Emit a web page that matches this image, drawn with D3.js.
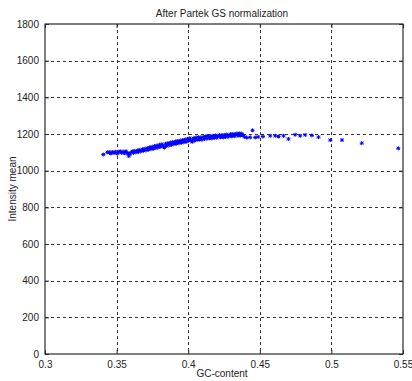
<!DOCTYPE html>
<html>
<head>
<meta charset="utf-8">
<script src="https://cdn.jsdelivr.net/npm/d3@7"></script>
<style>
  html, body { margin: 0; padding: 0; background: #fff; }
  svg { display: block; font-family: "Liberation Sans", Arial, Helvetica, sans-serif; }
</style>
</head>
<body>
<svg id="chart" width="412" height="381"></svg>
<script>
// GC-content of each probe group and its mean intensity after normalization
const gcContent = [
  0.3407, 0.3435, 0.3448, 0.3458, 0.3470, 0.3482, 0.3492, 0.3505, 0.3515, 0.3525,
  0.3535, 0.3546, 0.3555, 0.3565, 0.3572, 0.3580, 0.3585, 0.3592, 0.3600, 0.3610,
  0.3618, 0.3627, 0.3635, 0.3645, 0.3652, 0.3662, 0.3670, 0.3680, 0.3688, 0.3697,
  0.3705, 0.3714, 0.3722, 0.3731, 0.3740, 0.3748, 0.3757, 0.3765, 0.3774, 0.3782,
  0.3790, 0.3799, 0.3808, 0.3816, 0.3825, 0.3834, 0.3842, 0.3850, 0.3858, 0.3867,
  0.3875, 0.3884, 0.3892, 0.3901, 0.3910, 0.3918, 0.3927, 0.3935, 0.3944, 0.3953,
  0.3961, 0.3970, 0.3978, 0.3987, 0.3995, 0.4003, 0.4011, 0.4020, 0.4028, 0.4036,
  0.4045, 0.4053, 0.4062, 0.4070, 0.4079, 0.4088, 0.4096, 0.4105, 0.4114, 0.4122,
  0.4131, 0.4140, 0.4148, 0.4157, 0.4166, 0.4174, 0.4183, 0.4192, 0.4200, 0.4209,
  0.4218, 0.4226, 0.4235, 0.4244, 0.4252, 0.4261, 0.4270, 0.4278, 0.4287, 0.4296,
  0.4304, 0.4313, 0.4322, 0.4330, 0.4339, 0.4348, 0.4356, 0.4365, 0.4374, 0.4383,
  0.4395, 0.4410, 0.4433, 0.4449, 0.4468, 0.4489, 0.4522, 0.4573, 0.4608, 0.4631,
  0.4666, 0.4700, 0.4747, 0.4782, 0.4817, 0.4864, 0.4910, 0.4992, 0.5074, 0.5212,
  0.5467
];
const intensityMean = [
  1088, 1100, 1101, 1094, 1102, 1096, 1103, 1093, 1101, 1106,
  1097, 1104, 1095, 1106, 1099, 1092, 1080, 1090, 1099, 1105,
  1097, 1108, 1100, 1110, 1102, 1113, 1105, 1117, 1109, 1119,
  1111, 1123, 1114, 1127, 1118, 1130, 1120, 1134, 1123, 1137,
  1127, 1141, 1130, 1144, 1134, 1126, 1146, 1135, 1150, 1139,
  1153, 1141, 1156, 1145, 1159, 1148, 1162, 1150, 1164, 1153,
  1167, 1155, 1170, 1158, 1173, 1163, 1177, 1165, 1157, 1176,
  1164, 1180, 1168, 1183, 1170, 1181, 1169, 1184, 1173, 1187,
  1175, 1189, 1177, 1188, 1176, 1190, 1179, 1192, 1180, 1189,
  1194, 1182, 1193, 1181, 1195, 1184, 1197, 1185, 1192, 1199,
  1187, 1200, 1188, 1197, 1202, 1190, 1204, 1192, 1202, 1191,
  1184, 1180, 1182, 1220, 1181, 1184, 1186, 1190, 1190, 1186,
  1190, 1173, 1196, 1190, 1195, 1192, 1183, 1167, 1167, 1150,
  1122
];

const xTicks = [0.3, 0.35, 0.4, 0.45, 0.5, 0.55];
const yTicks = [0, 200, 400, 600, 800, 1000, 1200, 1400, 1600, 1800];

const svg = d3.select("#chart");
const margin = { left: 45, right: 9, top: 24, bottom: 27 };
const W = 412, H = 381;
const x = d3.scaleLinear().domain([0.3, 0.55]).range([margin.left, W - margin.right]);
const y = d3.scaleLinear().domain([0, 1800]).range([H - margin.bottom, margin.top]);

const ink = "#2b2b2b";
const fontSize = 10;

// dotted grid
const grid = svg.append("g").attr("stroke", "#333").attr("stroke-width", 1)
  .attr("stroke-dasharray", "3,3").attr("shape-rendering", "crispEdges");
grid.selectAll(".gx").data(xTicks.slice(1, -1)).join("line")
  .attr("x1", d => Math.round(x(d)) + 0.5).attr("x2", d => Math.round(x(d)) + 0.5)
  .attr("y1", y(1800)).attr("y2", y(0));
grid.selectAll(".gy").data(yTicks.slice(1, -1)).join("line")
  .attr("y1", d => Math.round(y(d)) + 0.5).attr("y2", d => Math.round(y(d)) + 0.5)
  .attr("x1", x(0.3)).attr("x2", x(0.55));

// axes with inward ticks
const tickFmt = d => String(d);
svg.append("g").attr("transform", `translate(0,${y(0)})`)
  .call(d3.axisBottom(x).tickValues(xTicks).tickFormat(tickFmt).tickSizeInner(-4).tickSizeOuter(0).tickPadding(7))
  .call(g => g.select(".domain").remove());
svg.append("g").attr("transform", `translate(${x(0.3)},0)`)
  .call(d3.axisLeft(y).tickValues(yTicks).tickFormat(tickFmt).tickSizeInner(-4).tickSizeOuter(0).tickPadding(6))
  .call(g => g.select(".domain").remove());
svg.append("g").attr("transform", `translate(0,${y(1800)})`)
  .call(d3.axisTop(x).tickValues(xTicks).tickFormat("").tickSizeInner(-4).tickSizeOuter(0))
  .call(g => g.select(".domain").remove());
svg.append("g").attr("transform", `translate(${x(0.55)},0)`)
  .call(d3.axisRight(y).tickValues(yTicks).tickFormat("").tickSizeInner(-4).tickSizeOuter(0))
  .call(g => g.select(".domain").remove());

svg.selectAll(".tick line").attr("stroke", ink);
svg.selectAll(".tick text").attr("font-size", fontSize).attr("fill", "#222")
  .attr("font-family", "Liberation Sans, Arial, sans-serif");

// plot box
svg.append("rect")
  .attr("x", x(0.3)).attr("y", y(1800))
  .attr("width", x(0.55) - x(0.3)).attr("height", y(0) - y(1800))
  .attr("fill", "none").attr("stroke", ink).attr("stroke-width", 1.2);

// star markers
const r = 2;
const starPath = `M${-r},0H${r}M0,${-r}V${r}M${-r*0.75},${-r*0.75}L${r*0.75},${r*0.75}M${-r*0.75},${r*0.75}L${r*0.75},${-r*0.75}`;
svg.append("g").selectAll("path").data(gcContent.map((g, i) => [g, intensityMean[i]])).join("path")
  .attr("transform", d => `translate(${x(d[0])},${y(d[1])})`)
  .attr("d", starPath)
  .attr("stroke", "#0000ff").attr("stroke-width", 1).attr("fill", "none");

// labels
svg.append("text").attr("x", (x(0.3) + x(0.55)) / 2 - 2).attr("y", 17)
  .attr("text-anchor", "middle").attr("font-size", fontSize).attr("fill", "#222")
  .text("After Partek GS normalization");
svg.append("text").attr("x", (x(0.3) + x(0.55)) / 2 - 2).attr("y", 377)
  .attr("text-anchor", "middle").attr("font-size", fontSize).attr("fill", "#222")
  .text("GC-content");
svg.append("text").attr("transform", `translate(16,${(y(0) + y(1800)) / 2}) rotate(-90)`)
  .attr("text-anchor", "middle").attr("font-size", fontSize).attr("fill", "#222")
  .text("Intensity mean");
</script>
</body>
</html>
